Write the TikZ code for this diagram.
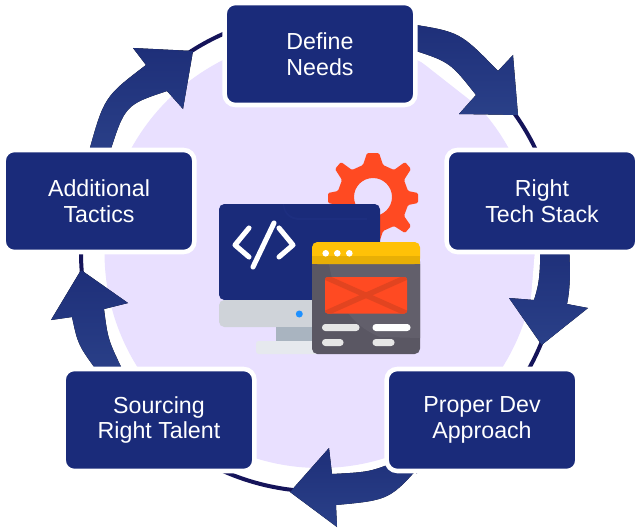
\documentclass[tikz,border=0pt]{standalone}
\usepackage{fontspec}
\setmainfont{Liberation Sans}
\definecolor{boxblue}{HTML}{1A2B7A}
\definecolor{ringc}{HTML}{15145A}
\definecolor{lilac}{HTML}{E9E0FF}
\definecolor{arrowa}{HTML}{1E2F79}
\definecolor{arrowb}{HTML}{2A4088}
\definecolor{gearc}{HTML}{FF4A22}
\definecolor{screengray}{HTML}{CFD3D9}
\definecolor{standc}{HTML}{A9B4C0}
\definecolor{basec}{HTML}{E6E9EE}
\definecolor{dotblue}{HTML}{1E90FF}
\definecolor{winbody}{HTML}{5A5763}
\definecolor{winlight}{HTML}{625F6B}
\definecolor{winyellow}{HTML}{FFC107}
\definecolor{windark}{HTML}{E8AF05}
\definecolor{xred}{HTML}{E24420}
\definecolor{pillgray}{HTML}{E6E6E6}
\definecolor{screenarc}{HTML}{1D2E7F}
\tikzset{
  stepbox/.style={fill=boxblue,draw=white,line width=3.4pt,rounded corners=8pt,minimum width=143pt,minimum height=76.5pt,inner sep=0pt,align=center,text=white,font=\fontsize{17.4}{19.4}\selectfont},
  bandarrow/.style={top color=arrowa,bottom color=arrowb,draw=none},
  pillshape/.style={fill=#1,draw=none,rounded corners=2.5pt},
  codeline/.style={draw=white,line width=3.8pt,line cap=round,line join=round}
}
\begin{document}
\begin{tikzpicture}[x=0.75pt,y=-0.75pt]
\useasboundingbox (0,0) rectangle (641,528);
\fill[white] (0,0) rectangle (641,528);
\coordinate (c) at (320,252.5);
\fill[lilac] (c) circle (215.5);
\draw[ringc,line width=3pt] (c) circle (239);
% white cover of ring under the arrow bands and gaps
\fill[white] (419,19) -- (419,60) -- (470,100) -- (530,80) -- (470,30) -- cycle;
\fill[white] (80,150) -- (110,150) -- (170,95) -- (150,50) -- cycle;
\fill[white] (535,250) -- (575,250) -- (575,310) -- (530,310) -- cycle;
\fill[white] (420,465) -- (400,510) -- (330,510) -- (325,470) -- cycle;
\fill[white] (65,320) -- (108,320) -- (125,375) -- (90,375) -- cycle;
% arrows
\fill[bandarrow] (410,24) .. controls (460,32) .. (498,71) -- (513,55) -- (518,115) -- (459,114) -- (476,95) .. controls (450,62) .. (410,49) -- cycle;
\fill[bandarrow] (540,245) .. controls (541,280) and (537,290) .. (534,300) -- (509,298) -- (541.7,345) -- (588,308) -- (567,304) .. controls (571,285) and (570,265) .. (569,245) -- cycle;
\fill[bandarrow] (425,460) .. controls (390,500) .. (336,505) -- (337,527) -- (290,492) -- (329,448) -- (332,474) .. controls (370,472) .. (400,460) -- cycle;
\fill[bandarrow] (100,375) .. controls (78,345) .. (72,317) -- (51,320) -- (81,270) -- (128,303) -- (104,309) .. controls (108,340) .. (125,375) -- cycle;
\fill[bandarrow] (88,155) .. controls (104,97) .. (146,65) -- (133,48) -- (193,51) -- (183,109) -- (167,91) .. controls (125,105) .. (109,155) -- cycle;
% boxes
\node[stepbox] (needs) at (320,54) {Define\\Needs};
\node[stepbox] (tech) at (542,201) {Right\\Tech Stack};
\node[stepbox] (tactics) at (99,201) {Additional\\Tactics};
\node[stepbox] (talent) at (159,420) {Sourcing\\Right Talent};
\node[stepbox] (dev) at (482,420) {Proper Dev\\Approach};
% gear
\fill[gearc,even odd rule,rounded corners=1pt]
  (367,153) -- (379,153) -- (383,165) -- (394,170) -- (405,162) -- (411,169) -- (404,180) -- (408,191) -- (418,193) -- (418,203) -- (408,205) -- (404,216) -- (411,226) -- (405,233) -- (394,226) -- (383,231) -- (379,243) -- (367,243) -- (363,231) -- (352,226) -- (341,233) -- (335,226) -- (342,216) -- (338,205) -- (328,203) -- (328,193) -- (338,191) -- (342,180) -- (335,169) -- (341,162) -- (352,170) -- (363,165) -- cycle
  (373,197) circle (19);
% monitor
\fill[boxblue,rounded corners=4pt] (219,300) -- (219,204) -- (380,204) -- (380,300) -- cycle;
\fill[screenarc] (284,204) .. controls (285,214) and (292,218) .. (300,218) -- (367,218) -- (367,220) -- (300,220) .. controls (290,220) and (283,214) .. (283,204) -- cycle;
\fill[screengray,rounded corners=4pt] (219,300) -- (219,327) -- (380,327) -- (380,300) -- cycle;
\fill[standc] (276,327) rectangle (320,341);
\fill[basec,rounded corners=2pt] (256,341) rectangle (320,354);
\fill[dotblue] (299.3,314) circle (3.5);
\draw[codeline] (249,228) -- (235,245) -- (249,257);
\draw[codeline] (279,228) -- (293,245) -- (279,257);
\draw[codeline] (274,223) -- (253,267);
% window
\fill[winbody,rounded corners=4pt] (312,256) -- (312,354) -- (420,354) -- (420,256) -- cycle;
\fill[winlight] (329,264) .. controls (335,300) and (350,325) .. (380,337) -- (420,338) -- (420,264) -- cycle;
\fill[winyellow,rounded corners=4pt] (312,264) -- (312,242) -- (420,242) -- (420,264) -- cycle;
\fill[windark] (312,256) rectangle (420,264);
\foreach \x in {325.7,337.3,349.3} \fill[white] (\x,253.3) circle (3.3);
\fill[gearc,rounded corners=2pt] (325,277) rectangle (407,313.5);
\begin{scope}
\clip[rounded corners=2pt] (325,277) rectangle (407,313.5);
\draw[xred,line width=4pt] (325,277) -- (407,313.5);
\draw[xred,line width=4pt] (325,313.5) -- (407,277);
\end{scope}
\fill[pillshape=pillgray] (322,324) rectangle (359.5,331);
\fill[pillshape=white] (372.5,324) rectangle (410.5,331);
\fill[pillshape=pillgray] (322,339) rectangle (343.5,346);
\fill[pillshape=pillgray] (372.5,339) rectangle (394.5,346);
\end{tikzpicture}
\end{document}
